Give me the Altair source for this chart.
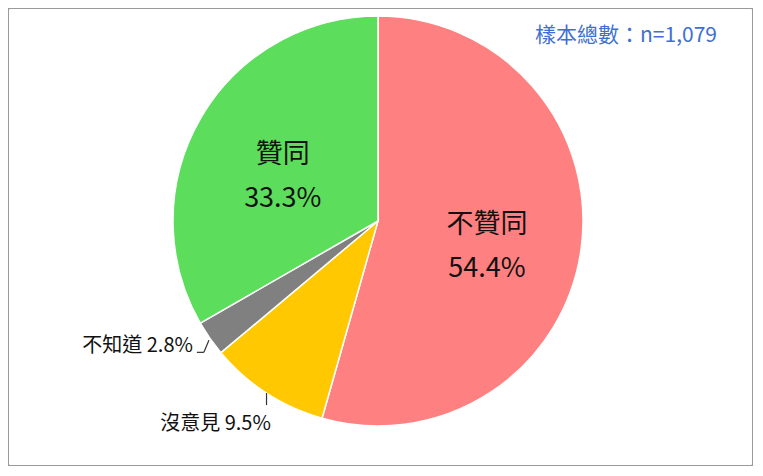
import altair as alt
import pandas as pd

categories = ["不贊同", "沒意見", "不知道", "贊同"]
values = [54.4, 9.5, 2.8, 33.3]
slice_colors = ["#FF8080", "#FFC800", "#808080", "#5CDE5C"]
inside_labels = ["不贊同", "贊同"]
sample_note = ["樣本總數：n=1,079"]

W, H = 745, 458
CX, CY, R = 370, 213, 205
FONT = "Noto Sans CJK TC"

df = pd.DataFrame({"cat": categories, "val": values, "ord": list(range(len(categories)))})

base = alt.Chart(df).transform_window(
    cum="sum(val)", sort=[alt.SortField("ord")]
).transform_joinaggregate(total="sum(val)").transform_calculate(
    mid="2*PI*(datum.cum - datum.val/2)/datum.total",
    ex=f"{CX} + {R}*sin(datum.mid)",
    ey=f"{CY} - {R}*cos(datum.mid)",
    ix=f"{CX} + 110*sin(datum.mid)",
    iy=f"{CY} - 110*cos(datum.mid)",
    pct="format(datum.val, '.1f') + '%'",
    lab="datum.cat + ' ' + format(datum.val, '.1f') + '%'",
)

pie = alt.Chart(df).mark_arc(radius=R, stroke="white", strokeWidth=1.5).encode(
    theta=alt.Theta("val:Q", stack=True),
    order=alt.Order("ord:Q"),
    color=alt.Color("cat:N", scale=alt.Scale(domain=categories, range=slice_colors), legend=None),
    x=alt.value(CX),
    y=alt.value(CY),
)

inner = base.transform_filter(
    alt.FieldOneOfPredicate(field="cat", oneOf=inside_labels)
).transform_calculate(
    two="datum.cat + '\\n' + datum.pct"
).mark_text(
    font=FONT, fontSize=27, lineBreak="\n", lineHeight=44, dy=-11, color="#111111", baseline="middle"
).encode(
    x=alt.X("ix:Q", scale=None, axis=None),
    y=alt.Y("iy:Q", scale=None, axis=None),
    text="two:N",
)

# 沒意見 label + leader
noop = base.transform_filter(alt.datum.cat == "沒意見")
noop_rule = noop.transform_calculate(ey2="datum.ey + 12").mark_rule(
    color="#333333", strokeWidth=1.2
).encode(
    x=alt.X("ex:Q", scale=None, axis=None),
    y=alt.Y("ey:Q", scale=None, axis=None),
    x2="ex:Q",
    y2="ey2:Q",
)
noop_text = noop.mark_text(
    font=FONT, fontSize=20, color="#111111", align="center", baseline="middle", dx=-51, dy=31
).encode(
    x=alt.X("ex:Q", scale=None, axis=None),
    y=alt.Y("ey:Q", scale=None, axis=None),
    text="lab:N",
)

# 不知道 label + bent leader
dk = base.transform_filter(alt.datum.cat == "不知道").transform_calculate(
    ax="datum.ex - 1", ay="datum.ey + 2",
    bx="datum.ex - 6", by="datum.ey + 14",
    cx2="datum.ex - 13",
)
dk_rule1 = dk.mark_rule(color="#333333", strokeWidth=1.2).encode(
    x=alt.X("ax:Q", scale=None, axis=None),
    y=alt.Y("ay:Q", scale=None, axis=None),
    x2="bx:Q",
    y2="by:Q",
)
dk_rule2 = dk.mark_rule(color="#333333", strokeWidth=1.2).encode(
    x=alt.X("bx:Q", scale=None, axis=None),
    y=alt.Y("by:Q", scale=None, axis=None),
    x2="cx2:Q",
    y2="by:Q",
)
dk_text = dk.mark_text(
    font=FONT, fontSize=20, color="#111111", align="right", baseline="middle", dx=-17, dy=8
).encode(
    x=alt.X("ex:Q", scale=None, axis=None),
    y=alt.Y("ey:Q", scale=None, axis=None),
    text="lab:N",
)

note = alt.Chart(pd.DataFrame({"t": sample_note})).mark_text(
    font=FONT, fontSize=21, color="#3F6FD0", align="right", baseline="middle"
).encode(x=alt.value(709), y=alt.value(28), text="t:N")

chart = alt.layer(
    pie, inner, noop_rule, noop_text, dk_rule1, dk_rule2, dk_text, note
).properties(
    width=W, height=H, padding=0
).configure_view(
    stroke="#9a9a9a", strokeWidth=2, cornerRadius=2
)

chart.save("out.html", embed_options={"renderer": "svg", "actions": False})
